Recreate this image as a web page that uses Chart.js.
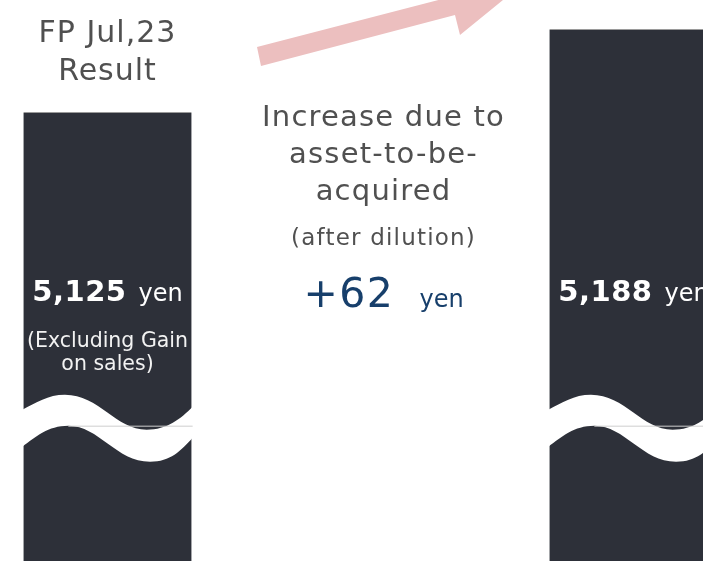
<!DOCTYPE html>
<html>
<head>
<meta charset="utf-8">
<script src="https://cdn.jsdelivr.net/npm/chart.js@4/dist/chart.umd.min.js"></script>
<style>
    html, body { margin:0; padding:0; background:#fff; overflow:hidden; }
    body { width:703px; height:561px; position:relative; }
    #wrap { position:absolute; left:-24px; top:0; width:789px; height:561px; }
</style>
</head>
<body>
<div id="wrap"><canvas id="dpuChart"></canvas></div>
<script>
// Data
const categories = ["FP Jul,23 Result", "Increase due to asset-to-be-acquired", "Forecast"];
const dpuValues = [5125, null, 5188];
const increaseValues = [null, 62, null];
const headerLines = ["FP Jul,23", "Result"];
const increaseLines = ["Increase due to", "asset-to-be-", "acquired"];
const increaseNote = ["(after dilution)"];
const barNotes = [["(Excluding Gain", "on sales)"], [], []];
const axisRange = [4784, 5210];
const breakValue = 4886;

const barColor = "#2d3039";
const greyText = "#505050";
const navy = "#173f6b";
const FONT = "'DejaVu Sans', Verdana, sans-serif";

function fmt(v){ return v.toLocaleString("en-US"); }

function txt(ctx, s, x, y, size, color, opts){
    opts = opts || {};
    ctx.save();
    ctx.font = (opts.bold ? "bold " : "") + size + "px " + FONT;
    ctx.fillStyle = color;
    ctx.textAlign = opts.align || "center";
    ctx.textBaseline = "alphabetic";
    if ("letterSpacing" in ctx) ctx.letterSpacing = (opts.ls || 0) + "px";
    ctx.fillText(s, x, y);
    ctx.restore();
}

function width(ctx, s, size, bold, ls){
    ctx.save();
    ctx.font = (bold ? "bold " : "") + size + "px " + FONT;
    if ("letterSpacing" in ctx) ctx.letterSpacing = (ls || 0) + "px";
    const w = ctx.measureText(s).width;
    ctx.restore();
    return w;
}

// number + small unit, centred as a block
function valueWithUnit(ctx, num, x, y, numSize, unitSize, color, bold, gap, ls){
    const w1 = width(ctx, num, numSize, bold, ls);
    const w2 = width(ctx, "yen", unitSize, false, 0);
    const start = x - (w1 + gap + w2) / 2;
    txt(ctx, num, start, y, numSize, color, {bold:bold, align:"left", ls:ls});
    txt(ctx, "yen", start + w1 + gap, y, unitSize, color, {align:"left"});
}

const decorPlugin = {
    id: "decor",
    afterDatasetsDraw(chart){
        const ctx = chart.ctx;
        const xs = chart.scales.x, ys = chart.scales.y;
        const meta = chart.getDatasetMeta(0);
        const y0 = ys.getPixelForValue(breakValue);

        // wavy axis break on every bar
        meta.data.forEach((bar, i) => {
            if (dpuValues[i] === null) return;
            const w = bar.width + 2, L = bar.x - bar.width / 2 - 1;
            ctx.save();
            ctx.fillStyle = "#ffffff";
            ctx.beginPath();
            ctx.moveTo(L, y0 - 17);
            ctx.bezierCurveTo(L + 0.08*w, y0 - 24, L + 0.15*w, y0 - 32, L + 0.25*w, y0 - 32);
            ctx.bezierCurveTo(L + 0.45*w, y0 - 32, L + 0.55*w, y0 + 3, L + 0.73*w, y0 + 3);
            ctx.bezierCurveTo(L + 0.85*w, y0 + 3, L + 0.93*w, y0 - 8, L + w, y0 - 20);
            ctx.lineTo(L + w, y0 + 11);
            ctx.bezierCurveTo(L + 0.93*w, y0 + 24, L + 0.87*w, y0 + 35, L + 0.75*w, y0 + 35);
            ctx.bezierCurveTo(L + 0.55*w, y0 + 35, L + 0.45*w, y0 - 1, L + 0.27*w, y0 - 1);
            ctx.bezierCurveTo(L + 0.15*w, y0 - 1, L + 0.08*w, y0 + 10, L, y0 + 20);
            ctx.closePath();
            ctx.fill();
            ctx.strokeStyle = "#cfcfcf";
            ctx.lineWidth = 1;
            ctx.beginPath();
            ctx.moveTo(L + 0.27*w, y0 - 0.5);
            ctx.lineTo(L + w, y0 - 0.5);
            ctx.stroke();
            ctx.restore();

            // value label inside the bar
            valueWithUnit(ctx, fmt(dpuValues[i]), bar.x, 301, 29, 24, "#ffffff", true, 12, 0.5);
            barNotes[i].forEach((line, k) => txt(ctx, line, bar.x, 347 + k*23, 20.5, "#f2f2f2"));
        });

        // header above first bar
        const x0 = xs.getPixelForValue(0);
        headerLines.forEach((line, k) => txt(ctx, line, x0, 42 + k*38, 30, greyText, {ls:1}));

        // increase annotation
        const xm = xs.getPixelForValue(1);
        const xt = xm + 13;
        increaseLines.forEach((line, k) => txt(ctx, line, xt, 126 + k*37, 29, greyText, {ls:1.2}));
        increaseNote.forEach((line, k) => txt(ctx, line, xt, 245 + k*26, 23, greyText, {ls:1.2}));
        valueWithUnit(ctx, "+" + increaseValues[1], xt, 307, 41, 24, navy, false, 25, 1.5);

        // pink arrow (head partly above the top edge)
        const top = chart.chartArea.top;
        const pts = [[-113.5, 47], [79.5, -3], [74.5, -23], [146, -11], [89.5, 35], [84.5, 15], [-109.5, 66]];
        ctx.save();
        ctx.fillStyle = "#ecbfbf";
        ctx.beginPath();
        pts.forEach((p, k) => k ? ctx.lineTo(xm + p[0], top + p[1]) : ctx.moveTo(xm + p[0], top + p[1]));
        ctx.closePath();
        ctx.fill();
        ctx.restore();
    }
};

new Chart(document.getElementById("dpuChart"), {
    type: "bar",
    data: {
        labels: categories,
        datasets: [{
            data: dpuValues,
            backgroundColor: barColor,
            borderColor: "#9a9a9a",
            borderWidth: {top:1, left:0, right:0, bottom:0},
            borderSkipped: "start",
            barPercentage: 0.64,
            categoryPercentage: 1.0
        }]
    },
    options: {
        responsive: true,
        maintainAspectRatio: false,
        animation: false,
        layout: { padding: 0 },
        plugins: { legend:{display:false}, tooltip:{enabled:false} },
        scales: {
            x: { display:false },
            y: { display:false, min:axisRange[0], max:axisRange[1] }
        }
    },
    plugins: [decorPlugin]
});
</script>
</body>
</html>
